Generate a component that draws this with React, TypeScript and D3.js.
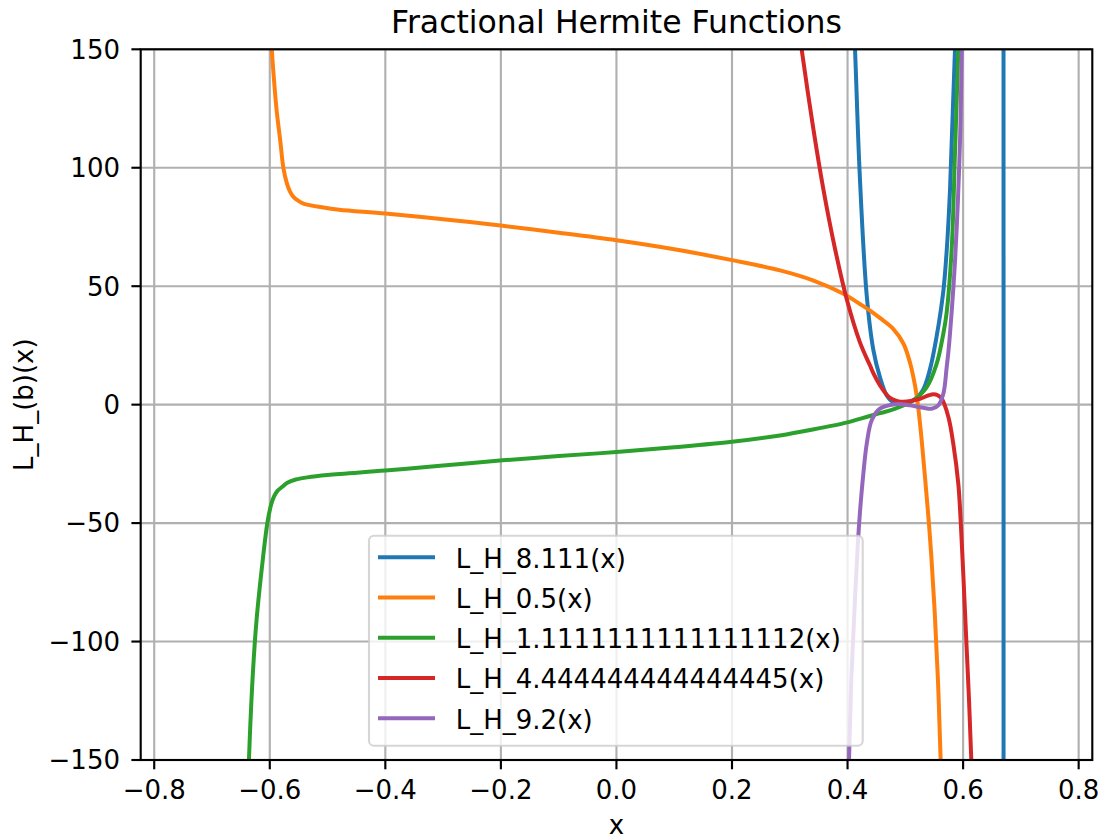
import React from "react";
import * as d3 from "d3";

// ---------- data ----------
const xTicks = [-0.8, -0.6, -0.4, -0.2, 0.0, 0.2, 0.4, 0.6, 0.8];
const yTicks = [-150, -100, -50, 0, 50, 100, 150];

const seriesNames = [
  "L_H_8.111(x)",
  "L_H_0.5(x)",
  "L_H_1.1111111111111112(x)",
  "L_H_4.444444444444445(x)",
  "L_H_9.2(x)",
];
const seriesColors = ["#1f77b4", "#ff7f0e", "#2ca02c", "#d62728", "#9467bd"];

const blueX = [-0.75, 0.3, 0.38, 0.4, 0.413, 0.421, 0.4332, 0.4447, 0.4559, 0.4678, 0.479, 0.495, 0.513, 0.53, 0.5427, 0.5543, 0.5658, 0.5716, 0.5773, 0.5859, 0.595, 0.63, 0.6685, 0.6695, 0.7, 0.75];
const blueY = [6000, 1500, 400, 230, 149.7, 97.6, 46, 23, 11.7, 3.9, 1.1, 0.9, 1.8, 6, 15, 29, 48, 65, 90.5, 149.7, 250, 800, 3000, -3000, -800, -400];

const orangeX = [-0.75, -0.65, -0.62, -0.605, -0.5964, -0.5936, -0.5881, -0.582, -0.5763, -0.5704, -0.5647, -0.559, -0.5509, -0.5417, -0.507, -0.48, -0.4, -0.3, -0.197, -0.1, 0.0, 0.1, 0.2, 0.283, 0.34, 0.392, 0.4213, 0.439, 0.4559, 0.479, 0.4966, 0.508, 0.5168, 0.5225, 0.5283, 0.534, 0.5398, 0.545, 0.551, 0.5565, 0.561, 0.57, 0.6, 0.75];
const orangeY = [3000, 700, 330, 190, 149.7, 139.9, 124.1, 111.7, 99.7, 93.4, 89.8, 87.7, 86.1, 84.9, 83.2, 82.3, 80.7, 78.3, 75.5, 72.6, 69.4, 65.6, 61, 56.7, 52.5, 46.9, 42.5, 39.7, 36.6, 32, 25.8, 17.8, 8, -1.5, -15, -30.5, -47, -64, -88.3, -116.5, -149, -210, -500, -3000];

const greenX = [-0.75, -0.66, -0.645, -0.636, -0.6244, -0.6129, -0.6042, -0.598, -0.5928, -0.586, -0.58, -0.5697, -0.555, -0.535, -0.5, -0.4, -0.3, -0.197, -0.1, 0.0, 0.1, 0.2, 0.283, 0.34, 0.398, 0.4213, 0.456, 0.479, 0.5139, 0.537, 0.5543, 0.5658, 0.5716, 0.5803, 0.5859, 0.5917, 0.6, 0.65, 0.75];
const greenY = [-4000, -600, -260, -149.6, -95.4, -67.2, -50, -42.5, -38.8, -36.2, -35, -33, -31.6, -30.7, -29.7, -27.8, -25.7, -23.5, -21.7, -20, -18, -15.7, -13, -10.5, -7.6, -6.0, -3.6, -2.0, 1.8, 7.4, 17.3, 30, 39, 66, 106, 149.7, 230, 1500, 6000];

const redX = [-0.75, 0.2, 0.29, 0.31, 0.3207, 0.3408, 0.3581, 0.3783, 0.3986, 0.4216, 0.4389, 0.4446, 0.4559, 0.4678, 0.473, 0.485, 0.4966, 0.5254, 0.54, 0.5485, 0.556, 0.563, 0.5745, 0.583, 0.5917, 0.596, 0.6004, 0.6056, 0.61, 0.614, 0.62, 0.65, 0.75];
const redY = [8000, 800, 211, 169, 149.7, 116.4, 91.0, 65.8, 44.5, 26.2, 16.5, 13.3, 8.2, 4.2, 3.0, 1.6, 1.2, 2.5, 3.9, 4.4, 4.0, 2.5, -5.2, -16.5, -33.4, -50, -72, -100, -123.5, -149, -190, -500, -4000];

const purpleX = [-0.75, 0.3, 0.38, 0.395, 0.4026, 0.4068, 0.4125, 0.418, 0.4213, 0.4273, 0.4332, 0.4418, 0.4559, 0.479, 0.495, 0.508, 0.531, 0.5456, 0.557, 0.5658, 0.5716, 0.5744, 0.5773, 0.5863, 0.5947, 0.5976, 0.605, 0.65, 0.75];
const purpleY = [-9000, -2000, -400, -200, -149, -114, -84, -58, -46, -29.2, -16.5, -6.6, -1.7, 0.1, 0.2, -0.3, -1.3, -1.7, -0.3, 4.6, 15.9, 22, 30, 62, 111.7, 149.7, 250, 2000, 9000];

const seriesXs = [blueX, orangeX, greenX, redX, purpleX];
const seriesYs = [blueY, orangeY, greenY, redY, purpleY];

// ---------- layout ----------
const W = 1102;
const H = 840;
const left = 140.7;
const right = 1092.3;
const top = 49.3;
const bottom = 760;
const FONT = "DejaVu Sans, sans-serif";
const fs = 26;
const lw = 2.13;

const fmtMinus = (s: string) => s.replace("-", "\u2212");

export default function App() {
  const x = d3.scaleLinear().domain([-0.8234, 0.8236]).range([left, right]);
  const y = d3.scaleLinear().domain([-150, 150]).range([bottom, top]);

  const line = d3
    .line<[number, number]>()
    .x((d) => x(d[0]))
    .y((d) => y(d[1]))
    .curve(d3.curveCatmullRom.alpha(0.5));

  const paths = seriesXs.map((xs, i) =>
    line(xs.map((v, j) => [v, seriesYs[i][j]] as [number, number]))
  );

  const legX = 369;
  const legY = 535.7;
  const legW = 493.7;
  const legH = 210;
  const rowY0 = 557.3;
  const rowDy = 40.25;

  return (
    <svg
      width={W}
      height={H}
      style={{ position: "absolute", left: 0, top: 0, background: "#fff" }}
      fontFamily={FONT}
    >
      <defs>
        <clipPath id="plotclip">
          <rect x={left} y={top} width={right - left} height={bottom - top} />
        </clipPath>
      </defs>
      <rect x={0} y={0} width={W} height={H} fill="#fff" />

      {/* grid */}
      <g stroke="#b0b0b0" strokeWidth={lw}>
        {xTicks.map((t) => (
          <line key={"gx" + t} x1={x(t)} x2={x(t)} y1={top} y2={bottom} />
        ))}
        {yTicks.map((t) => (
          <line key={"gy" + t} x1={left} x2={right} y1={y(t)} y2={y(t)} />
        ))}
      </g>

      {/* curves */}
      <g clipPath="url(#plotclip)" fill="none" strokeWidth={4} strokeLinejoin="round" strokeLinecap="butt">
        {paths.map((p, i) => (
          <path key={i} d={p || ""} stroke={seriesColors[i]} />
        ))}
      </g>

      {/* spines */}
      <rect
        x={left}
        y={top}
        width={right - left}
        height={bottom - top}
        fill="none"
        stroke="#000"
        strokeWidth={lw}
      />

      {/* x ticks */}
      <g>
        {xTicks.map((t) => (
          <g key={"tx" + t}>
            <line x1={x(t)} x2={x(t)} y1={bottom} y2={bottom + 9.3} stroke="#000" strokeWidth={lw} />
            <text x={x(t)} y={799.3} fontSize={fs} textAnchor="middle" fill="#000">
              {fmtMinus(t.toFixed(1))}
            </text>
          </g>
        ))}
      </g>

      {/* y ticks */}
      <g>
        {yTicks.map((t) => (
          <g key={"ty" + t}>
            <line x1={left - 9.3} x2={left} y1={y(t)} y2={y(t)} stroke="#000" strokeWidth={lw} />
            <text x={120} y={y(t)} dy="0.36em" fontSize={fs} textAnchor="end" fill="#000">
              {fmtMinus(String(t))}
            </text>
          </g>
        ))}
      </g>

      {/* title & labels */}
      <text x={(left + right) / 2} y={32.5} fontSize={31.5} textAnchor="middle" fill="#000">
        Fractional Hermite Functions
      </text>
      <text x={(left + right) / 2} y={834} fontSize={fs} textAnchor="middle" fill="#000">
        x
      </text>
      <text
        transform={`translate(32.5, ${(top + bottom) / 2}) rotate(-90)`}
        fontSize={fs}
        textAnchor="middle"
        fill="#000"
      >
        L_H_(b)(x)
      </text>

      {/* legend */}
      <g>
        <rect
          x={legX}
          y={legY}
          width={legW}
          height={legH}
          rx={5}
          ry={5}
          fill="#fff"
          fillOpacity={0.8}
          stroke="#cccccc"
          strokeOpacity={0.8}
          strokeWidth={lw}
        />
        {seriesNames.map((n, i) => (
          <g key={n}>
            <line
              x1={378}
              x2={435}
              y1={rowY0 + i * rowDy}
              y2={rowY0 + i * rowDy}
              stroke={seriesColors[i]}
              strokeWidth={4}
            />
            <text x={455.7} y={rowY0 + i * rowDy + 10.4} fontSize={fs} fill="#000">
              {n}
            </text>
          </g>
        ))}
      </g>
    </svg>
  );
}
